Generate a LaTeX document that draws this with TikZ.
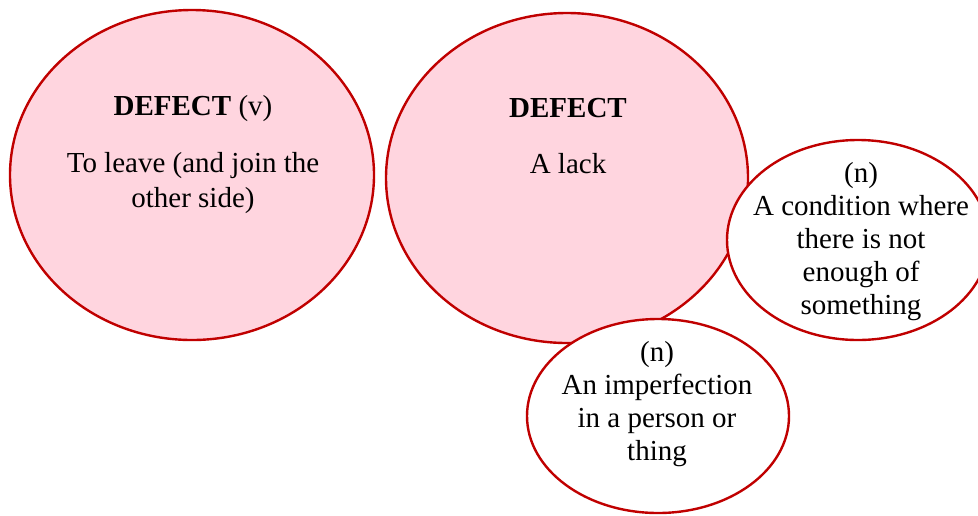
\documentclass[tikz,border=0pt]{standalone}
\usepackage{fontspec}
\setmainfont{Liberation Serif}
\usepackage{tikz}
\usetikzlibrary{shapes.geometric}
\definecolor{defred}{HTML}{C00000}
\definecolor{defpink}{HTML}{FFD5DF}
\tikzset{
  bubble/.style={ellipse, draw=defred, line width=1.2pt, inner sep=0pt},
  txt/.style={font=\fontsize{14.5}{17.5}\selectfont, align=center, anchor=base, inner sep=0pt},
  smalltxt/.style={txt, font=\fontsize{14.5}{16.4}\selectfont}
}

\begin{document}
\begin{tikzpicture}[x=0.5pt,y=-0.5pt]
        \useasboundingbox (0,0) rectangle (978,515);
        \node[bubble, fill=defpink, minimum width=182pt, minimum height=165pt] (verb) at (192,175) {};
        \node[bubble, fill=defpink, minimum width=181pt, minimum height=165pt] (noun) at (567,178) {};
        \node[bubble, fill=white, minimum width=131pt, minimum height=100pt] (lack) at (858,240) {};
        \node[bubble, fill=white, minimum width=131pt, minimum height=97pt] (flaw) at (658,416) {};
        \node[txt] (verbhead) at (193,115) {\textbf{DEFECT} (v)};
        \node[txt] (verbdef) at (193,207) {To leave (and join the\\other side)};
        \node[txt] (nounhead) at (568,117) {\textbf{DEFECT}};
        \node[txt] (noundef) at (568,173) {A lack};
        \node[smalltxt] (lackdef) at (861,314) {(n)\\A condition where\\there is not\\enough of\\something};
        \node[smalltxt] (flawdef) at (657,460) {(n)\\An imperfection\\in a person or\\thing};
      \end{tikzpicture}
\end{document}
